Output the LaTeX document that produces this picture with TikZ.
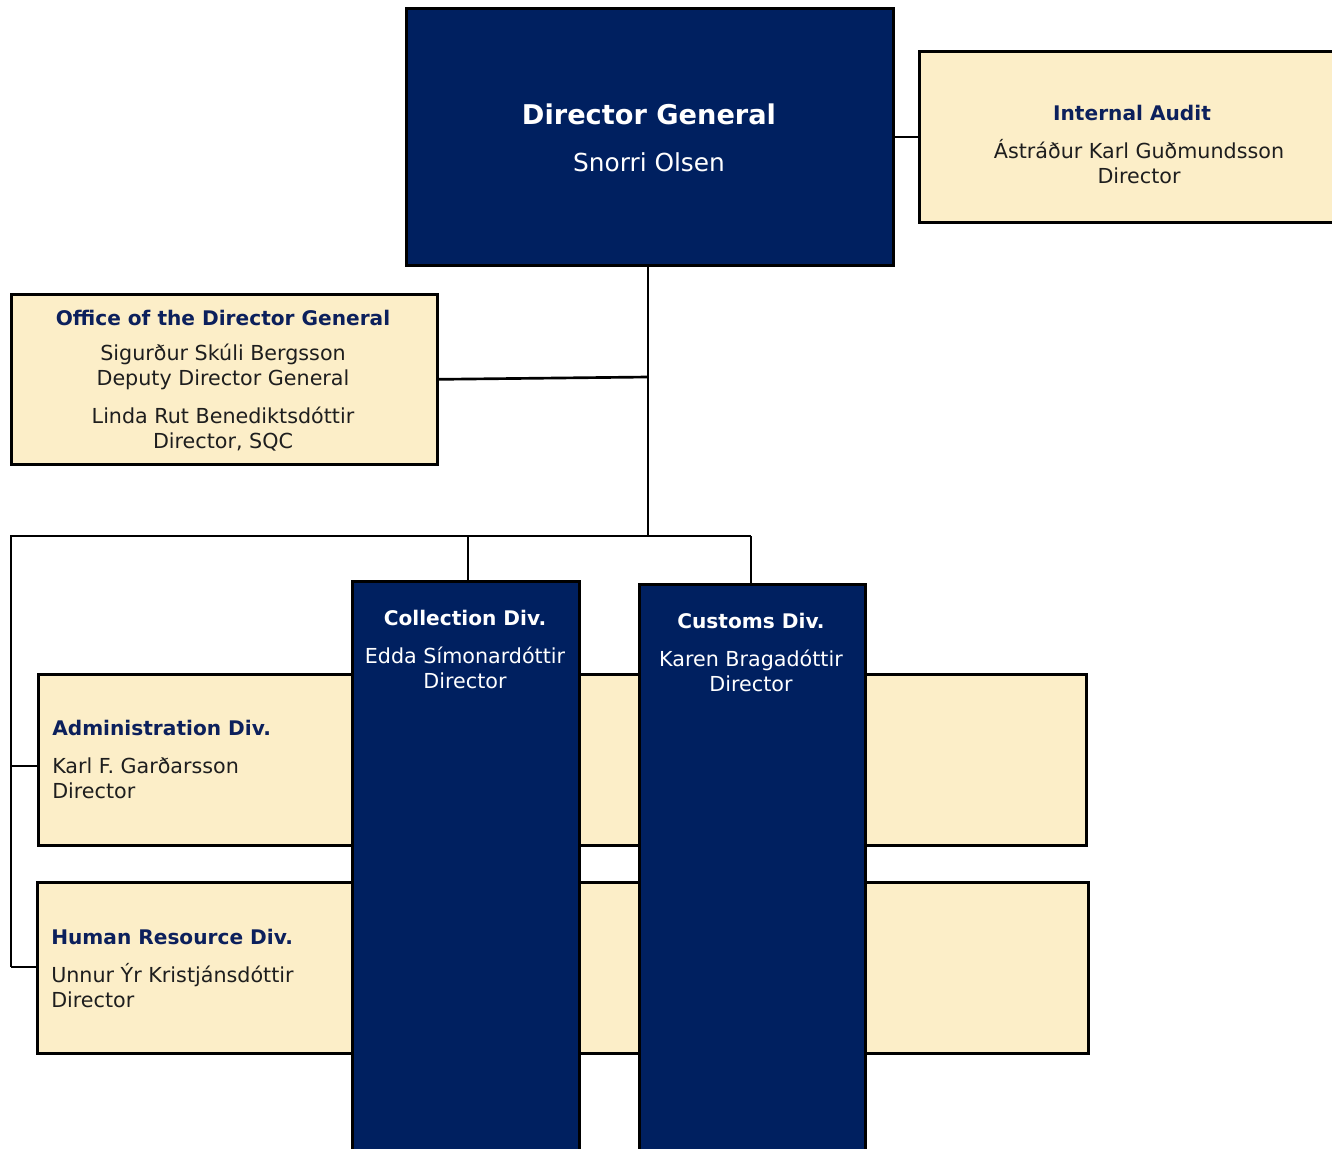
\documentclass[tikz,border=0pt]{standalone}
\usepackage{fontspec}
\setmainfont{DejaVu Sans}
\definecolor{navy}{RGB}{0,32,96}
\definecolor{cream}{RGB}{252,238,200}
\definecolor{titleblue}{RGB}{12,32,92}
\definecolor{bodytext}{RGB}{30,30,30}
\begin{document}
\begin{tikzpicture}[x=0.75pt,y=-0.75pt,
  navybox/.style={draw=black,line width=2pt,fill=navy,rectangle,inner sep=0pt},
  creambox/.style={draw=black,line width=2pt,fill=cream,rectangle,inner sep=0pt},
  wire/.style={draw=black,line width=2pt},
  ttl/.style={font=\bfseries\fontsize{15.1}{18.75}\selectfont,text=titleblue,inner sep=0pt},
  txt/.style={font=\fontsize{15.5}{18.75}\selectfont,text=bodytext,inner sep=0pt,align=center},
  wttl/.style={font=\bfseries\fontsize{15.1}{18.75}\selectfont,text=white,inner sep=0pt},
  wtxt/.style={font=\fontsize{15.5}{18.75}\selectfont,text=white,inner sep=0pt,align=center}]
\useasboundingbox (0,0) rectangle (1332,1149);
\fill[white] (0,0) rectangle (1332,1149);
% boxes
\node[navybox,minimum width=487*0.75pt,minimum height=257*0.75pt,anchor=north west] (dg) at (405,7) {};
\node[creambox,minimum width=420*0.75pt,minimum height=171*0.75pt,anchor=north west] (ia) at (918,50) {};
\node[creambox,minimum width=426*0.75pt,minimum height=170*0.75pt,anchor=north west] (odg) at (10,293) {};
\node[creambox,minimum width=1048*0.75pt,minimum height=171*0.75pt,anchor=north west] (adm) at (37,673) {};
\node[creambox,minimum width=1051*0.75pt,minimum height=171*0.75pt,anchor=north west] (hr) at (36,881) {};
\node[navybox,minimum width=227*0.75pt,minimum height=590*0.75pt,anchor=north west] (col) at (351,580) {};
\node[navybox,minimum width=226*0.75pt,minimum height=590*0.75pt,anchor=north west] (cus) at (638,583) {};
% texts
\node[font=\bfseries\fontsize{20.4}{24}\selectfont,text=white,inner sep=0pt] (dgt) at (649,114) {Director General};
\node[font=\fontsize{18.6}{21}\selectfont,text=white,inner sep=0pt] (dgn) at (649,162) {Snorri Olsen};
\node[ttl] (iat) at (1132,113) {Internal Audit};
\node[txt] (ian) at (1139,162) {Ástráður Karl Guðmundsson\\Director};
\node[ttl] (odgt) at (223,318) {Office of the Director General};
\node[txt] (odg1) at (223,367) {Sigurður Skúli Bergsson\\Deputy Director General};
\node[txt] (odg2) at (223,429) {Linda Rut Benediktsdóttir\\Director, SQC};
\node[ttl,anchor=west] (admt) at (52,728) {Administration Div.};
\node[txt,anchor=west,align=left] (admn) at (52,778) {Karl F. Garðarsson\\Director};
\node[ttl,anchor=west] (hrt) at (51,937) {Human Resource Div.};
\node[txt,anchor=west,align=left] (hrn) at (51,986) {Unnur Ýr Kristjánsdóttir\\Director};
\node[wttl] (colt) at (465,618) {Collection Div.};
\node[wtxt] (coln) at (465,668) {Edda Símonardóttir\\Director};
\node[wttl] (cust) at (751,621) {Customs Div.};
\node[wtxt] (cusn) at (751,671) {Karen Bragadóttir\\Director};
% connectors
\coordinate (tr) at (648,377);
\coordinate (bus) at (648,536);
\coordinate (busl) at (11,536);
\coordinate (busc) at (468,536);
\coordinate (busr) at (751,536);
\coordinate (la) at (11,766);
\coordinate (lh) at (11,967);
\draw[wire] (dg.east) -- (ia.west);
\draw[wire] (dg.south -| tr) -- (bus);
\draw[wire] (odg.east) -- (tr);
\draw[wire] (busr) -- (busl) -- (lh);
\draw[wire] (busc) -- (busc |- col.north);
\draw[wire] (busr) -- (busr |- cus.north);
\draw[wire] (la) -- (la -| adm.west);
\draw[wire] (lh) -- (lh -| hr.west);
\end{tikzpicture}
\end{document}
